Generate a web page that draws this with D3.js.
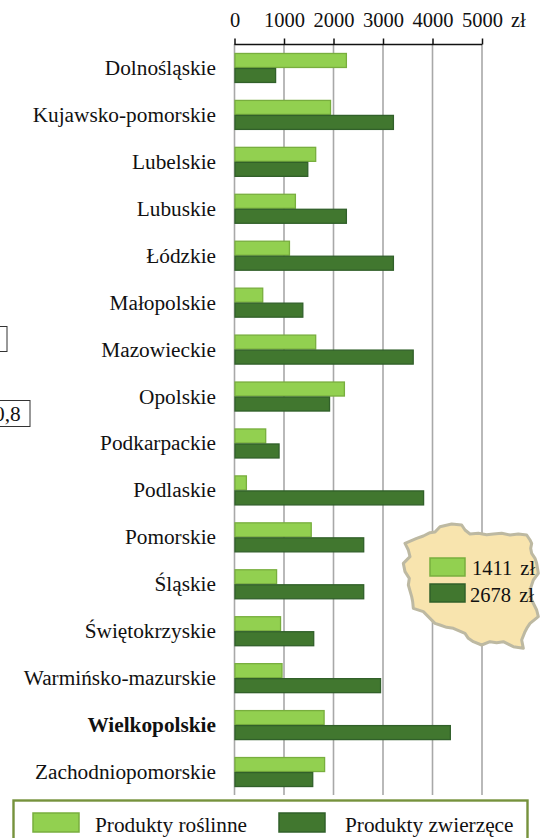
<!DOCTYPE html>
<html><head><meta charset="utf-8">
<script src="https://cdn.jsdelivr.net/npm/d3@7"></script>
<style>html,body{margin:0;padding:0;background:#fff}svg{display:block}text{font-family:"Liberation Serif",serif;fill:#111}</style>
</head><body><script>
const regions=["Dolnośląskie","Kujawsko-pomorskie","Lubelskie","Lubuskie","Łódzkie","Małopolskie","Mazowieckie","Opolskie","Podkarpackie","Podlaskie","Pomorskie","Śląskie","Świętokrzyskie","Warmińsko-mazurskie","Wielkopolskie","Zachodniopomorskie"];
const plantValues=[2250,1930,1630,1220,1100,560,1630,2210,620,230,1540,840,920,950,1800,1810];
const animalValues=[820,3200,1470,2250,3200,1370,3600,1910,890,3810,2600,2600,1590,2940,4350,1570];
const tickValues=[0,1000,2000,3000,4000,5000];
const seriesNames=["Produkty roślinne","Produkty zwierzęce"];
const nationalValues=["1411 zł","2678 zł"];
const highlighted="Wielkopolskie";
const mapOutline=[[45,100],[80,85],[100,78],[120,68],[135,66],[150,50],[185,42],[215,45],[225,60],[240,72],[265,70],[290,74],[310,72],[335,70],[360,75],[385,72],[410,75],[420,90],[425,100],[422,115],[425,130],[435,145],[440,160],[445,190],[430,210],[425,225],[420,240],[425,270],[440,300],[445,320],[420,340],[412,352],[405,365],[395,390],[400,415],[370,410],[340,395],[320,398],[300,395],[275,405],[250,395],[235,385],[225,370],[190,355],[170,352],[150,345],[135,340],[120,325],[100,305],[70,295],[68,275],[65,260],[55,225],[58,205],[45,185],[40,160],[60,140],[55,120]];

const LIGHT="#92d050",LIGHTB="#78ae3e",DARK="#41772f",DARKB="#31602a";
const svg=d3.select("body").append("svg").attr("width",540).attr("height",838);
const x=d3.scaleLinear().domain([0,5000]).range([234.5,482]);
const y=d3.scaleBand().domain(regions).range([44.5,795.5]);
const fs=21.3, tickFs=20.5;

// grid
svg.append("g").selectAll("line").data(tickValues).join("line")
  .attr("x1",d=>x(d)).attr("x2",d=>x(d)).attr("y1",44).attr("y2",795)
  .attr("stroke","#a8a8a8").attr("stroke-width",1.6);

// axis
const ax=svg.append("g").attr("transform","translate(0,44.5)")
  .call(d3.axisTop(x).tickValues(tickValues).tickFormat(d3.format("d")).tickSize(6).tickPadding(11.5));
ax.selectAll("path").attr("stroke","#111").attr("stroke-width",1.5).attr("d","M234.5,0H482");
ax.selectAll("line").attr("stroke","#111").attr("stroke-width",1.5);
ax.selectAll("text").style("font-family",'"Liberation Serif",serif').style("font-size",tickFs+"px").attr("fill","#111");
svg.append("text").attr("x",511).attr("y",27).attr("font-size",tickFs).text("zł");

// bars
const bh=14;
const g=svg.append("g");
g.selectAll("rect.p").data(regions).join("rect").attr("class","p")
  .attr("x",x(0)+.5).attr("y",d=>y(d)+y.bandwidth()/2-bh-.5).attr("height",bh)
  .attr("width",(d,i)=>x(plantValues[i])-x(0)).attr("fill",LIGHT).attr("stroke",LIGHTB).attr("stroke-width",1.3);
g.selectAll("rect.a").data(regions).join("rect").attr("class","a")
  .attr("x",x(0)+.5).attr("y",d=>y(d)+y.bandwidth()/2+.5).attr("height",bh)
  .attr("width",(d,i)=>x(animalValues[i])-x(0)).attr("fill",DARK).attr("stroke",DARKB).attr("stroke-width",1.3);

// category labels
svg.append("g").selectAll("text").data(regions).join("text")
  .attr("x",216).attr("y",d=>y(d)+y.bandwidth()/2+7).attr("text-anchor","end")
  .attr("font-size",fs).attr("font-weight",d=>d===highlighted?"bold":"normal").text(d=>d);

// Poland map
const line=d3.line().x(d=>390+d[0]/3).y(d=>510+d[1]/3).curve(d3.curveLinearClosed);
svg.append("path").attr("d",line(mapOutline)).attr("fill","#f8e4ae").attr("stroke","#bdb9a2").attr("stroke-width",3).attr("stroke-linejoin","round");
const swY=[558,584];
svg.append("g").selectAll("rect").data(nationalValues).join("rect")
  .attr("x",430).attr("y",(d,i)=>swY[i]).attr("width",35).attr("height",18)
  .attr("fill",(d,i)=>i?DARK:LIGHT).attr("stroke",(d,i)=>i?DARKB:LIGHTB).attr("stroke-width",1.5);
svg.append("g").selectAll("text").data(nationalValues).join("text")
  .attr("x",(d,i)=>i?470:472).attr("y",(d,i)=>i?602:575)
  .attr("font-size",tickFs).attr("word-spacing",3).text(d=>d);

// cropped boxes at left edge
svg.append("rect").attr("x",-20).attr("y",326.5).attr("width",27).attr("height",25).attr("fill","#fff").attr("stroke","#333");
svg.append("rect").attr("x",-20).attr("y",400.5).attr("width",50).attr("height",26).attr("fill","#fff").attr("stroke","#333");
svg.append("text").attr("x",-6).attr("y",421).attr("font-size",fs).text("0,8");

// legend
svg.append("rect").attr("x",13.5).attr("y",800.5).attr("width",514).attr("height",60).attr("fill","#fff").attr("stroke","#76923c").attr("stroke-width",2.4);
const lx=[33,279], ltx=[95,345];
svg.append("g").selectAll("rect").data(seriesNames).join("rect")
  .attr("x",(d,i)=>lx[i]).attr("y",813).attr("width",46).attr("height",19)
  .attr("fill",(d,i)=>i?DARK:LIGHT).attr("stroke",(d,i)=>i?DARKB:LIGHTB).attr("stroke-width",1.5);
svg.append("g").selectAll("text").data(seriesNames).join("text")
  .attr("x",(d,i)=>ltx[i]).attr("y",832).attr("font-size",fs).text(d=>d);
</script></body></html>
